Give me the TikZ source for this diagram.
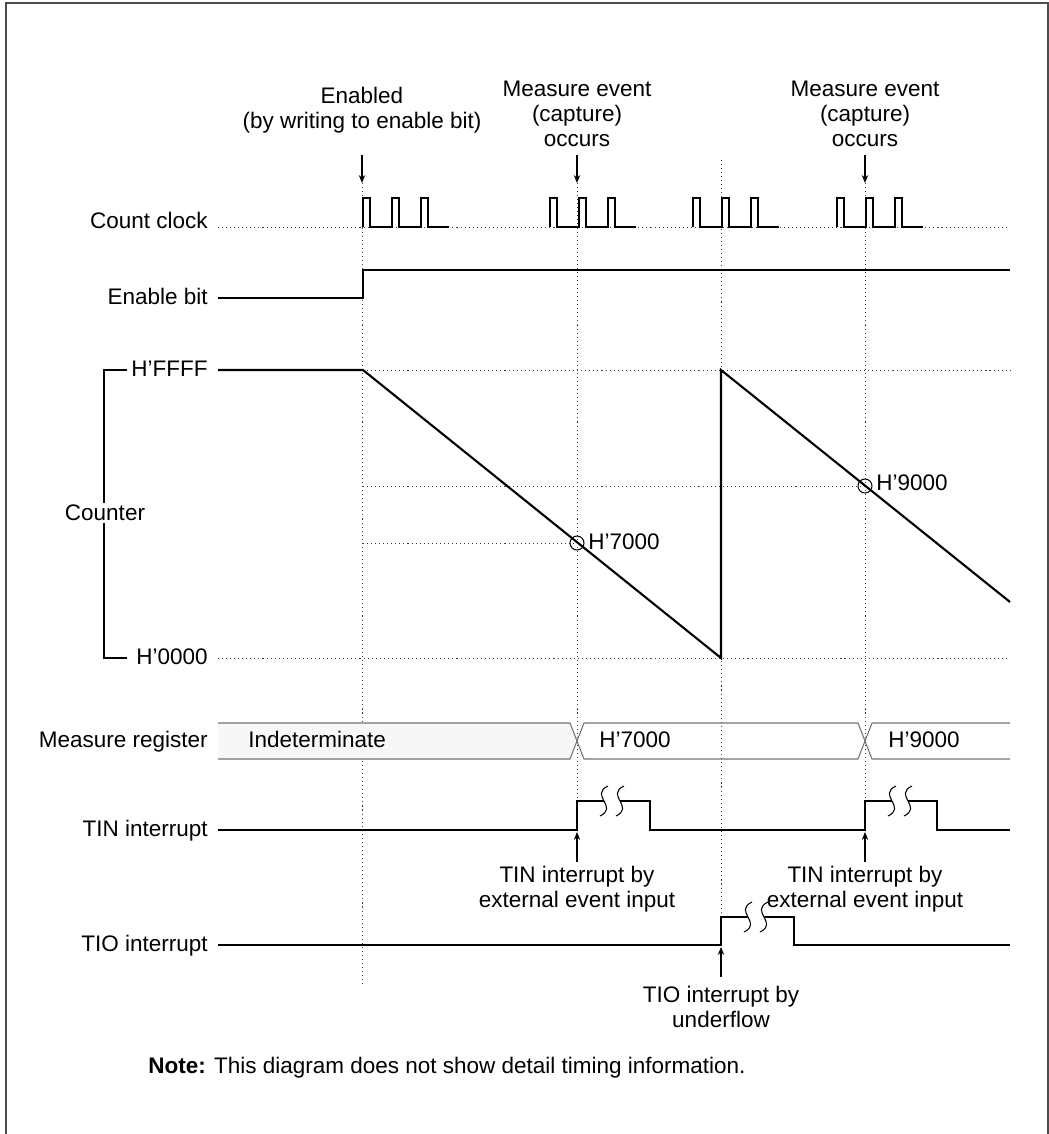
\documentclass[tikz,border=0pt]{standalone}
\usepackage{fontspec}
\setmainfont{Liberation Sans}
\usetikzlibrary{arrows.meta}
\tikzset{
  sig/.style={line width=0.6pt, black},
  cnt/.style={line width=1.2pt, black},
  guide/.style={line width=0.5pt, black!75, dash pattern=on 0.6pt off 1.7pt},
  band/.style={line width=0.6pt, black!55},
  evarrow/.style={line width=0.6pt, -{Stealth[length=4.5pt, width=3.6pt]}},
  lbl/.style={anchor=east, inner sep=0pt, text height=0.72em, text depth=0pt},
  txt/.style={anchor=west, inner sep=0pt, text height=0.72em, text depth=0pt},
  brkmark/.pic={
    \draw[sig] (4,-15) .. controls (-15,-6) and (15,6) .. (-4,15);
  }
}

\begin{document}
\begin{tikzpicture}[x=0.2mm, y=-0.2mm, font=\fontsize{12.8pt}{14.2pt}\selectfont]
    \useasboundingbox (0,0) rectangle (1049,1134);
    % Frame
    \draw[line width=0.6pt, black!70] (6,1134) -- (6,3) -- (1048,3) -- (1048,1134);

    % Event headings
    \node[align=center] (enab) at (362,110) {Enabled\\(by writing to enable bit)};
    \node[align=center] (meas1) at (577,114) {Measure event\\(capture)\\occurs};
    \node[align=center] (meas2) at (865,114) {Measure event\\(capture)\\occurs};
    \coordinate (enTop) at (362,155);
    \coordinate (enTip) at (362,183);
    \coordinate (m1Top) at (577,155);
    \coordinate (m1Tip) at (577,183);
    \coordinate (m2Top) at (865,155);
    \coordinate (m2Tip) at (865,183);
    \draw[evarrow] (enTop) -- (enTip);
    \draw[evarrow] (m1Top) -- (m1Tip);
    \draw[evarrow] (m2Top) -- (m2Tip);

    % Event guide lines
    \draw[guide] (enTip) -- (362,985);
    \draw[guide] (m1Tip) -- (577,801);
    \draw[guide] (721,160) -- (721,917);
    \draw[guide] (m2Tip) -- (865,801);

    % Signal names
    \node[lbl] (clkLbl) at (208,222) {Count clock};
    \node[lbl] (enLbl) at (208,298) {Enable bit};
    \node[lbl] (ffffLbl) at (208,370) {H’FFFF};
    \node[lbl] (zeroLbl) at (208,658) {H’0000};
    \node[lbl] (regLbl) at (208,741) {Measure register};
    \node[lbl] (tinLbl) at (208,830) {TIN interrupt};
    \node[lbl] (tioLbl) at (208,945) {TIO interrupt};

    % Count clock
    \draw[guide] (218,227) -- (1010,227);
    \foreach \s in {363,550,693,837}
      \draw[sig] (\s,227) -- ++(0,-29) -- ++(7,0) -- ++(0,29) -- ++(22,0)
        -- ++(0,-29) -- ++(7,0) -- ++(0,29) -- ++(22,0)
        -- ++(0,-29) -- ++(7,0) -- ++(0,29) -- ++(21,0);

    % Enable bit
    \draw[sig] (218,298) -- (363,298) -- (363,270) -- (1010,270);

    % Counter
    \draw[guide] (363,370) -- (1010,370);
    \draw[guide] (218,658) -- (1010,658);
    \draw[guide] (363,486) -- (865,486);
    \draw[guide] (363,543) -- (577,543);
    \draw[cnt] (218,370) -- (363,370) -- (721,658) -- (721,370) -- (1010,602);
    \draw[sig] (127,370) -- (104,370) -- (104,658) -- (127,658);
    \node[fill=white, inner sep=1pt] (cntLbl) at (105,513) {Counter};
    \node[circle, draw, line width=0.6pt, minimum size=2.8mm, inner sep=0pt] (cap1) at (577,543) {};
    \node[circle, draw, line width=0.6pt, minimum size=2.8mm, inner sep=0pt] (cap2) at (865,486) {};
    \node[txt] (cap1Lbl) at (588,543) {H’7000};
    \node[txt] (cap2Lbl) at (876,484) {H’9000};

    % Measure register
    \fill[black!3] (218,723) -- (570,723) -- (577,741) -- (570,759) -- (218,759) -- cycle;
    \draw[band] (218,723) -- (570,723) -- (584,759) -- (858,759) -- (872,723) -- (1010,723);
    \draw[band] (218,759) -- (570,759) -- (584,723) -- (858,723) -- (872,759) -- (1010,759);
    \node[txt] (indLbl) at (248,741) {Indeterminate};
    \node[txt] (reg1Lbl) at (599,741) {H’7000};
    \node[txt] (reg2Lbl) at (888,741) {H’9000};

    % TIN interrupt
    \draw[sig] (218,830) -- (577,830) -- (577,801) -- (604,801);
    \draw[sig] (620,801) -- (650,801) -- (650,830) -- (865,830) -- (865,801) -- (892,801);
    \draw[sig] (908,801) -- (937,801) -- (937,830) -- (1010,830);
    \pic at (604,801) {brkmark};
    \pic at (620,801) {brkmark};
    \pic at (892,801) {brkmark};
    \pic at (908,801) {brkmark};
    \coordinate (tin1Tip) at (577,832);
    \coordinate (tin1Bot) at (577,862);
    \coordinate (tin2Tip) at (865,832);
    \coordinate (tin2Bot) at (865,862);
    \draw[evarrow] (tin1Bot) -- (tin1Tip);
    \draw[evarrow] (tin2Bot) -- (tin2Tip);
    \node[align=center] (tin1Txt) at (577,889) {TIN interrupt by\\external event input};
    \node[align=center] (tin2Txt) at (865,889) {TIN interrupt by\\external event input};

    % TIO interrupt
    \draw[sig] (218,945) -- (721,945) -- (721,917) -- (748,917);
    \draw[sig] (764,917) -- (794,917) -- (794,945) -- (1010,945);
    \pic at (748,917) {brkmark};
    \pic at (764,917) {brkmark};
    \coordinate (tioTip) at (721,947);
    \coordinate (tioBot) at (721,977);
    \draw[evarrow] (tioBot) -- (tioTip);
    \node[align=center] (tioTxt) at (721,1007) {TIO interrupt by\\underflow};

    % Note
    \node[txt] (note) at (148,1067) {\textbf{Note:} This diagram does not show detail timing information.};
\end{tikzpicture}
\end{document}
